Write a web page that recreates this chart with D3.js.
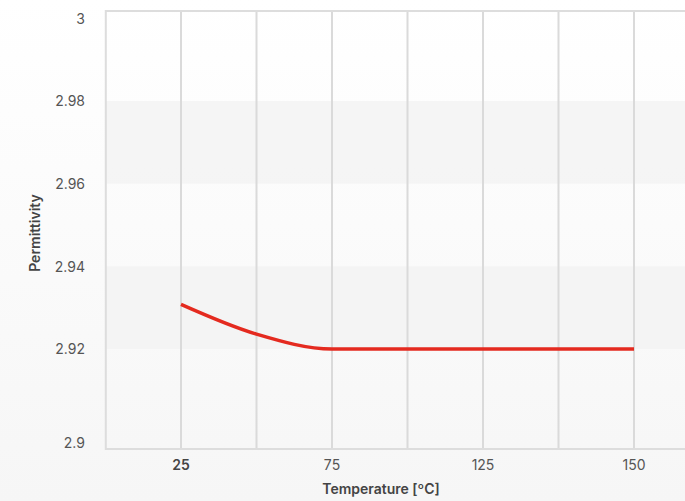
<!DOCTYPE html>
<html><head><meta charset="utf-8">
<script src="https://cdn.jsdelivr.net/npm/d3@7"></script>
<style>
html,body{margin:0;padding:0;}
body{width:685px;height:501px;overflow:hidden;background:linear-gradient(#ffffff,#f6f6f6);}
svg{display:block;font-family:Inter,"Liberation Sans",Arial,sans-serif;}
</style></head><body>
<svg id="c" width="685" height="501"></svg>
<script>
const categories = ["25","50","75","100","125","140","150"];
const shownLabels = ["25","75","125","150"];
const permittivity = [2.9308, 2.9236, 2.92, 2.92, 2.92, 2.92, 2.92];
const yTicks = [2.9, 2.92, 2.94, 2.96, 2.98, 3];

const svg = d3.select("#c");
const x = d3.scaleLinear().domain([0, categories.length - 1]).range([181, 634]);
const y = d3.scaleLinear().domain([2.9, 3]).range([431.7, 18.3]);
const frameTop = 11, frameBottom = 449, frameLeft = x(-1) + 0.3, frameRight = x(8);

// bands
const bands = [[2.96, 2.98], [2.92, 2.94]];
svg.selectAll("rect.band").data(bands).enter().append("rect")
  .attr("x", frameLeft).attr("width", frameRight - frameLeft)
  .attr("y", d => y(d[1])).attr("height", d => y(d[0]) - y(d[1]))
  .attr("fill", "#f3f3f3").attr("fill-opacity", 0.8);

// vertical gridlines
svg.selectAll("line.vg").data(d3.range(0, 8)).enter().append("line")
  .attr("x1", d => x(d)).attr("x2", d => x(d))
  .attr("y1", frameTop).attr("y2", frameBottom)
  .attr("stroke", "#dadada").attr("stroke-width", 2);

// frame
svg.append("path")
  .attr("d", `M${frameRight},${frameTop}H${frameLeft}V${frameBottom}H${frameRight}`)
  .attr("fill", "none").attr("stroke", "#dddddd").attr("stroke-width", 2);

// y labels
svg.selectAll("text.yl").data(yTicks).enter().append("text")
  .attr("x", 85)
  .attr("y", d => y(d) + (d === 2.9 ? 11 : 0.5))
  .attr("dy", "0.35em")
  .attr("text-anchor", "end")
  .attr("font-size", 14).attr("fill", "#555")
  .text(d => d3.format("")(d));

// x labels
svg.selectAll("text.xl").data(categories).enter().append("text")
  .filter(d => shownLabels.includes(d))
  .attr("x", (d) => x(categories.indexOf(d)))
  .attr("y", 465).attr("dy", "0.35em")
  .attr("text-anchor", "middle")
  .attr("font-size", 14)
  .attr("font-weight", d => d === "25" ? 600 : 400)
  .attr("fill", d => d === "25" ? "#444" : "#555")
  .text(d => d);

// line
const line = d3.line().x((d, i) => x(i)).y(d => y(d)).curve(d3.curveMonotoneX);
svg.append("path").datum(permittivity)
  .attr("d", line).attr("fill", "none")
  .attr("stroke", "#e42a1f").attr("stroke-width", 3.5);

// axis titles
svg.append("text").attr("x", 381).attr("y", 489).attr("dy", "0.35em")
  .attr("text-anchor", "middle").attr("font-size", 14).attr("font-weight", 600)
  .attr("fill", "#444").text("Temperature [ºC]");
svg.append("text").attr("transform", "translate(35,233) rotate(-90)")
  .attr("dy", "0.35em").attr("text-anchor", "middle")
  .attr("font-size", 14).attr("font-weight", 600).attr("fill", "#444")
  .text("Permittivity");
</script>
</body></html>
